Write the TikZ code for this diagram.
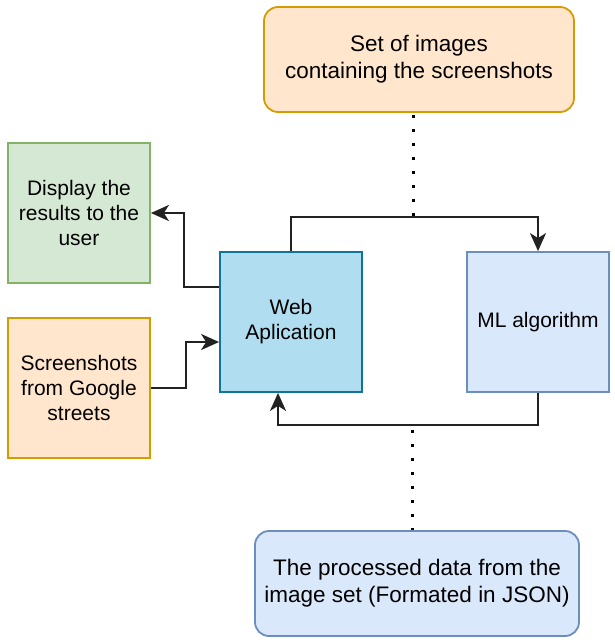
\documentclass[tikz,border=0pt]{standalone}
\usepackage{fontspec}
\setmainfont{Liberation Sans}
\usetikzlibrary{arrows.meta}
\definecolor{orfill}{HTML}{FFE6CC}
\definecolor{ordraw}{HTML}{D79B00}
\definecolor{grfill}{HTML}{D5E8D4}
\definecolor{grdraw}{HTML}{82B366}
\definecolor{cyfill}{HTML}{B1DDF0}
\definecolor{cydraw}{HTML}{10739E}
\definecolor{blfill}{HTML}{DAE8FC}
\definecolor{bldraw}{HTML}{6C8EBF}
\definecolor{linec}{HTML}{222222}
\tikzset{
  box/.style={draw, line width=1.8pt, align=center, inner sep=0pt,
    minimum width=142pt, minimum height=140pt,
    font={\fontsize{21}{25}\selectfont}},
  bigbox/.style={draw, line width=1.8pt, align=center, inner sep=0pt,
    rounded corners=14pt, minimum height=105pt,
    font={\fontsize{22.5}{27}\selectfont}},
  conn/.style={draw=linec, line width=2pt},
  arr/.style={conn, -{Stealth[length=18pt,width=16pt,inset=5pt]}},
  dots/.style={draw=black, line width=3pt, dash pattern=on 3pt off 11pt}
}
\begin{document}
\begin{tikzpicture}[x=1pt,y=-1pt]
\useasboundingbox (0,0) rectangle (615,643);
\node[bigbox, fill=orfill, draw=ordraw, minimum width=310pt] (top) at (419,59.5)
  {Set of images\\ containing the screenshots};
\node[box, fill=grfill, draw=grdraw] (green) at (79,213) {Display the\\results to the\\user};
\node[box, fill=orfill, draw=ordraw] (orange) at (79,388) {Screenshots\\from Google\\streets};
\node[box, fill=cyfill, draw=cydraw] (web) at (291,322) {Web\\Aplication};
\node[box, fill=blfill, draw=bldraw] (ml) at (538,322) {ML algorithm};
\node[bigbox, fill=blfill, draw=bldraw, minimum width=324pt] (bottom) at (417,583.5)
  {The processed data from the\\image set (Formated in JSON)};
\coordinate (tj) at (413,217);
\coordinate (bj) at (412,425);
% connectors
\draw[arr] (web.north) -- (web.north |- tj) -| (ml.north);
\draw[arr] (ml.south) -- (ml.south |- bj) -| ([xshift=-13pt]web.south);
\draw[arr] ([yshift=35pt]web.west) -- ++(-35,0) |- (green.east);
\draw[arr] (orange.east) -- ++(35,0) |- ([yshift=-20pt]web.west);
% dotted
\draw[dots, dash phase=11.5pt] (top.south -| tj) -- (tj);
\draw[dots, dash phase=9pt] (bj) -- (bottom.north -| bj);
\end{tikzpicture}
\end{document}
